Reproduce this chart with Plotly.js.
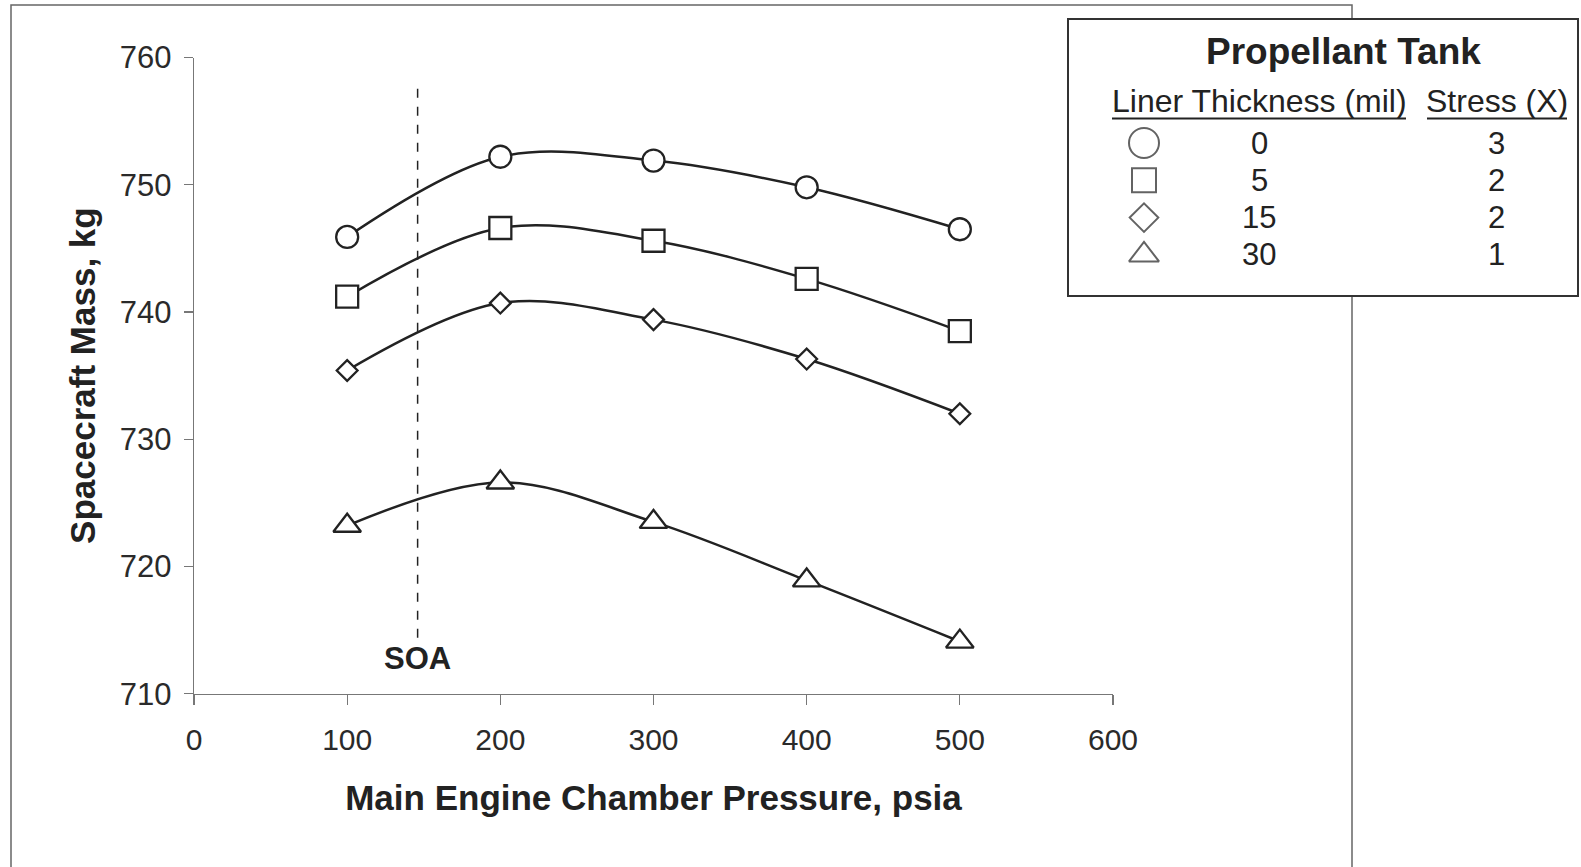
<!DOCTYPE html>
<html>
<head>
<meta charset="utf-8">
<script src="https://cdn.plot.ly/plotly-3.0.1.min.js"></script>
<style>html,body{margin:0;padding:0;background:#fff;}#chart{width:1581px;height:867px;}</style>
</head>
<body>
<div id="chart"></div>
<script>
// ---- data ----
const pressure = [100, 200, 300, 400, 500];
const mass0  = [745.9, 752.2, 751.9, 749.8, 746.5];
const mass5  = [741.2, 746.6, 745.6, 742.6, 738.5];
const mass15 = [735.4, 740.7, 739.4, 736.3, 732.0];
const mass30 = [723.2, 726.6, 723.5, 718.9, 714.1];
const linerThickness = [0, 5, 15, 30];
const stressX = [3, 2, 2, 1];
const xTicks = [0, 100, 200, 300, 400, 500, 600];
const yTicks = [710, 720, 730, 740, 750, 760];
const soaPressure = 146;
const soaTop = 757.8, soaBottom = 714.4, soaLabelY = 712.8;

// ---- styling ----
const W = 1581, H = 867;
const FONT = 'Liberation Sans, Arial, sans-serif';
const INK = '#222';
const seriesMass = [mass0, mass5, mass15, mass30];
const plotSymbols = ['circle', 'square', 'diamond', 'triangle-up'];
const plotSizes = [22, 22, 16, 24];
const legendSizes = [30, 24, 22, 26];

const traces = seriesMass.map((m, i) => ({
  x: pressure, y: m, type: 'scatter', mode: 'lines+markers',
  xaxis: 'x', yaxis: 'y', showlegend: false, cliponaxis: false,
  line: {color: INK, width: 2.5, shape: 'spline', smoothing: 1},
  marker: {symbol: plotSymbols[i], size: plotSizes[i], color: '#fff', line: {color: INK, width: 2.3}}
}));

// legend table drawn on a pixel-scaled overlay axis
const legSymX = 1144, legCol1X = 1259, legCol2X = 1496;
const legRow0 = 143, legRowStep = 37.3;
const rowY = linerThickness.map((_, i) => legRow0 + legRowStep * i);
traces.push({
  x: linerThickness.map(() => legSymX), y: rowY, type: 'scatter', mode: 'markers',
  xaxis: 'x2', yaxis: 'y2', showlegend: false, cliponaxis: false, hoverinfo: 'skip',
  marker: {symbol: plotSymbols, size: legendSizes, color: '#fff', line: {color: INK, width: 2}}
});

const annotations = [
  {xref: 'x', yref: 'y', x: soaPressure, y: soaLabelY, text: '<b>SOA</b>', showarrow: false,
   font: {family: FONT, size: 31, color: INK}, xanchor: 'center', yanchor: 'middle'},
  {xref: 'x2', yref: 'y2', x: 1343, y: 51.5, text: '<b>Propellant Tank</b>', showarrow: false,
   font: {family: FONT, size: 37, color: INK}, xanchor: 'center', yanchor: 'middle'},
  {xref: 'x2', yref: 'y2', x: 1259, y: 101, text: 'Liner Thickness (mil)', showarrow: false,
   font: {family: FONT, size: 32, color: INK}, xanchor: 'center', yanchor: 'middle'},
  {xref: 'x2', yref: 'y2', x: 1497, y: 101, text: 'Stress (X)', showarrow: false,
   font: {family: FONT, size: 32, color: INK}, xanchor: 'center', yanchor: 'middle'}
];
linerThickness.forEach((t, i) => {
  annotations.push({xref: 'x2', yref: 'y2', x: legCol1X, y: rowY[i], text: String(t), showarrow: false,
    font: {family: FONT, size: 31, color: INK}, xanchor: 'center', yanchor: 'middle'});
  annotations.push({xref: 'x2', yref: 'y2', x: legCol2X, y: rowY[i], text: String(stressX[i]), showarrow: false,
    font: {family: FONT, size: 31, color: INK}, xanchor: 'center', yanchor: 'middle'});
});

const layout = {
  width: W, height: H,
  margin: {l: 0, r: 0, t: 0, b: 0},
  paper_bgcolor: '#fff', plot_bgcolor: 'rgba(0,0,0,0)',
  font: {family: FONT, color: INK},
  showlegend: false,
  xaxis: {
    domain: [194 / W, 1113 / W], range: [0, 600], tickvals: xTicks,
    showgrid: false, zeroline: false, showline: true, linecolor: '#777', linewidth: 1.2,
    ticks: 'outside', ticklen: 10, tickcolor: '#777', tickwidth: 1.2,
    tickfont: {family: FONT, size: 30, color: '#2a2a2a'}, ticklabelstandoff: 9,
    title: {text: '<b>Main Engine Chamber Pressure, psia</b>', font: {family: FONT, size: 35, color: INK}, standoff: 30},
    anchor: 'y', fixedrange: true
  },
  yaxis: {
    domain: [1 - 693.7 / H, 1 - 57.5 / H], range: [710, 760], tickvals: yTicks,
    showgrid: false, zeroline: false, showline: true, linecolor: '#777', linewidth: 1.2,
    ticks: 'outside', ticklen: 9, tickcolor: '#777', tickwidth: 1.2,
    tickfont: {family: FONT, size: 31, color: '#2a2a2a'}, ticklabelstandoff: 6,
    title: {text: '<b>Spacecraft Mass, kg</b>', font: {family: FONT, size: 35, color: INK}, standoff: 13},
    anchor: 'x', fixedrange: true
  },
  xaxis2: {domain: [0, 1], range: [0, W], visible: false, anchor: 'y2', fixedrange: true},
  yaxis2: {domain: [0, 1], range: [H, 0], visible: false, anchor: 'x2', fixedrange: true},
  shapes: [
    {type: 'rect', xref: 'paper', yref: 'paper', x0: 11 / W, x1: 1352 / W, y0: -0.05, y1: 1 - 5 / H,
     line: {color: '#666', width: 1.5}, fillcolor: 'rgba(0,0,0,0)', layer: 'below'},
    {type: 'rect', xref: 'paper', yref: 'paper', x0: 1068 / W, x1: 1578 / W, y0: 1 - 296 / H, y1: 1 - 19 / H,
     line: {color: '#333', width: 2}, fillcolor: '#fff', layer: 'below'},
    {type: 'line', xref: 'x2', yref: 'y2', x0: 1112, x1: 1406, y0: 118.5, y1: 118.5,
     line: {color: INK, width: 2}},
    {type: 'line', xref: 'x2', yref: 'y2', x0: 1427, x1: 1567, y0: 118.5, y1: 118.5,
     line: {color: INK, width: 2}},
    {type: 'line', xref: 'x', yref: 'y', x0: soaPressure, x1: soaPressure, y0: soaBottom, y1: soaTop,
     line: {color: INK, width: 1.5, dash: 'dash'}}
  ],
  annotations: annotations
};

Plotly.newPlot('chart', traces, layout, {staticPlot: true, displayModeBar: false});
</script>
</body>
</html>
